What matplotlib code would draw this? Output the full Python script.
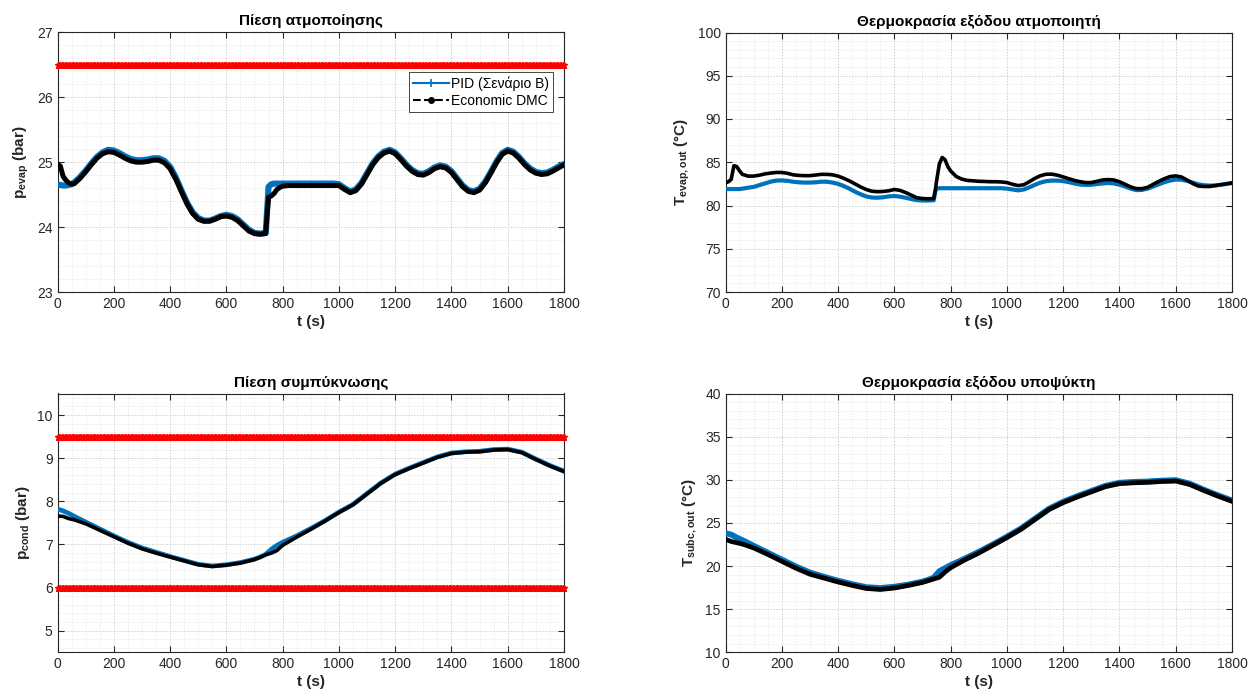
import numpy as np
import matplotlib
matplotlib.use("Agg")
import matplotlib.pyplot as plt
from matplotlib.lines import Line2D
from matplotlib.ticker import MultipleLocator

plt.rcParams["font.family"] = ["Liberation Sans", "DejaVu Sans"]
plt.rcParams["mathtext.fontset"] = "custom"
plt.rcParams["mathtext.rm"] = "Liberation Sans"
plt.rcParams["mathtext.bf"] = "Liberation Sans:bold"
plt.rcParams["mathtext.it"] = "Liberation Sans:italic"

# ---------------- data ----------------
# time grid for the evaporator signals (denser around the step at ~745 s)
t_top = np.concatenate([np.arange(0, 61, 10), np.arange(80, 741, 20),
                        [745, 750, 760, 770, 780, 790], np.arange(800, 1801, 20)])
# time grid for the condenser / subcooler signals
t_bot = np.concatenate([[0, 20, 40, 60], np.arange(100, 701, 50),
                        [720, 740, 760, 780, 800], np.arange(850, 1801, 50)])

p_evap_pid = [24.65, 24.65, 24.64, 24.64, 24.65, 24.66, 24.69,
              24.77, 24.87, 24.98, 25.08, 25.15, 25.19, 25.18, 25.14, 25.09, 25.05,
              25.03, 25.03, 25.04, 25.06, 25.06, 25.02, 24.93, 24.77, 24.57, 24.38,
              24.23, 24.14, 24.10, 24.10, 24.13, 24.17, 24.19, 24.17, 24.12, 24.04,
              23.96, 23.91, 23.90, 23.91,
              24.27, 24.62, 24.66, 24.67, 24.67, 24.67,
              24.67, 24.67, 24.67, 24.67, 24.67, 24.67, 24.67, 24.67, 24.67, 24.67,
              24.66, 24.60, 24.55, 24.58, 24.68, 24.83, 24.98, 25.09, 25.16, 25.19,
              25.15, 25.06, 24.96, 24.88, 24.83, 24.82, 24.86, 24.92, 24.95, 24.93,
              24.86, 24.75, 24.64, 24.57, 24.55, 24.59, 24.70, 24.85, 25.01, 25.14,
              25.19, 25.16, 25.08, 24.98, 24.90, 24.85, 24.83, 24.84, 24.88, 24.93,
              24.97]
p_evap_dmc = [24.97, 24.94, 24.78, 24.72, 24.68, 24.66, 24.67,
              24.75, 24.85, 24.96, 25.06, 25.13, 25.16, 25.15, 25.11, 25.06, 25.02,
              25.00, 25.00, 25.01, 25.03, 25.03, 24.99, 24.90, 24.74, 24.55, 24.36,
              24.21, 24.12, 24.09, 24.09, 24.12, 24.16, 24.17, 24.15, 24.10, 24.02,
              23.94, 23.90, 23.89, 23.90,
              24.20, 24.46, 24.48, 24.52, 24.58, 24.61,
              24.63, 24.64, 24.64, 24.64, 24.64, 24.64, 24.64, 24.64, 24.64, 24.64,
              24.64, 24.58, 24.53, 24.56, 24.66, 24.81, 24.96, 25.07, 25.14, 25.17,
              25.13, 25.04, 24.94, 24.86, 24.81, 24.80, 24.84, 24.90, 24.93, 24.91,
              24.84, 24.73, 24.62, 24.55, 24.53, 24.57, 24.68, 24.83, 24.99, 25.12,
              25.17, 25.14, 25.06, 24.96, 24.88, 24.83, 24.81, 24.82, 24.86, 24.91,
              24.96]

T_evap_pid = [81.9, 81.9, 81.9, 81.9, 81.9, 81.9, 81.95,
              82.05, 82.15, 82.35, 82.55, 82.75, 82.88, 82.9, 82.85, 82.75, 82.68,
              82.65, 82.65, 82.68, 82.75, 82.75, 82.65, 82.5, 82.25, 81.95, 81.6,
              81.3, 81.05, 80.92, 80.9, 80.95, 81.05, 81.1, 81.02, 80.9, 80.75,
              80.62, 80.58, 80.58, 80.6,
              81.6, 81.95, 82.0, 82.0, 82.0, 82.0,
              82.0, 82.0, 82.0, 82.0, 82.0, 82.0, 82.0, 82.0, 82.0, 82.0,
              81.95, 81.85, 81.75, 81.85, 82.1, 82.4, 82.65, 82.82, 82.88, 82.88,
              82.82, 82.7, 82.55, 82.42, 82.38, 82.4, 82.48, 82.55, 82.6, 82.55,
              82.4, 82.2, 81.95, 81.78, 81.8, 81.95, 82.2, 82.45, 82.7, 82.88,
              83.0, 82.98, 82.85, 82.65, 82.45, 82.35, 82.3, 82.32, 82.4, 82.5,
              82.6]
T_evap_dmc = [82.6, 82.75, 83.0, 84.6, 84.5, 84.0, 83.6,
              83.4, 83.4, 83.5, 83.65, 83.75, 83.82, 83.82, 83.72, 83.55, 83.48,
              83.45, 83.45, 83.52, 83.6, 83.6, 83.55, 83.4, 83.15, 82.85, 82.5,
              82.15, 81.85, 81.65, 81.6, 81.62, 81.7, 81.85, 81.75, 81.5, 81.2,
              80.9, 80.8, 80.78, 80.8,
              81.6, 82.8, 84.8, 85.55, 85.3, 84.5,
              84.0, 83.35, 83.05, 82.9, 82.85, 82.8, 82.78, 82.75, 82.75, 82.72,
              82.65, 82.45, 82.3, 82.4, 82.75, 83.15, 83.45, 83.62, 83.62, 83.5,
              83.3, 83.1, 82.9, 82.75, 82.65, 82.65, 82.8, 82.95, 83.0, 82.95,
              82.75, 82.45, 82.15, 81.95, 81.95, 82.1, 82.45, 82.8, 83.1, 83.35,
              83.42, 83.3, 82.95, 82.55, 82.25, 82.2, 82.2, 82.3, 82.4, 82.5,
              82.6]

p_cond_pid = [7.82, 7.78, 7.72, 7.65,
              7.52, 7.36, 7.20, 7.05, 6.92, 6.82, 6.72, 6.63, 6.54, 6.50, 6.53, 6.58, 6.66,
              6.71, 6.77, 6.89, 6.98, 7.05,
              7.20, 7.37, 7.55, 7.75, 7.93, 8.18, 8.43, 8.63, 8.77, 8.90,
              9.03, 9.12, 9.15, 9.16, 9.20, 9.21, 9.14, 8.98, 8.83, 8.70]
p_cond_dmc = [7.66, 7.65, 7.60, 7.57,
              7.48, 7.33, 7.18, 7.03, 6.90, 6.80, 6.71, 6.62, 6.53, 6.49, 6.52, 6.57, 6.65,
              6.70, 6.76, 6.80, 6.86, 6.98,
              7.17, 7.35, 7.54, 7.74, 7.92, 8.17, 8.42, 8.62, 8.76, 8.89,
              9.02, 9.11, 9.14, 9.15, 9.19, 9.20, 9.13, 8.97, 8.82, 8.69]

T_subc_pid = [23.8, 23.65, 23.3, 23.0,
              22.35, 21.55, 20.75, 19.95, 19.25, 18.75, 18.3, 17.9, 17.55, 17.45, 17.6, 17.85, 18.2,
              18.4, 18.65, 19.4, 19.75, 20.1,
              20.85, 21.65, 22.5, 23.4, 24.35, 25.5, 26.65, 27.45, 28.1, 28.7,
              29.3, 29.65, 29.75, 29.8, 29.9, 29.95, 29.55, 28.85, 28.2, 27.6]
T_subc_dmc = [23.1, 22.85, 22.7, 22.55,
              22.1, 21.35, 20.55, 19.75, 19.05, 18.6, 18.15, 17.75, 17.4, 17.28, 17.45, 17.75, 18.1,
              18.3, 18.5, 18.7, 19.3, 19.8,
              20.7, 21.5, 22.4, 23.3, 24.25, 25.4, 26.55, 27.35, 28.0, 28.6,
              29.2, 29.55, 29.65, 29.7, 29.8, 29.85, 29.45, 28.75, 28.1, 27.5]

# operating limits
p_evap_max = 26.5
p_cond_max = 9.5
p_cond_min = 6.0

titles = ["Πίεση ατμοποίησης", "Θερμοκρασία εξόδου ατμοποιητή",
          "Πίεση συμπύκνωσης", "Θερμοκρασία εξόδου υποψύκτη"]
ylabels = [r"$\mathbf{p_{evap}}$ (bar)", r"$\mathbf{T_{evap,out}}$ (°C)",
           r"$\mathbf{p_{cond}}$ (bar)", r"$\mathbf{T_{subc,out}}$ (°C)"]
legend_labels = ["PID (Σενάριο B)", "Economic DMC"]

# ---------------- styling ----------------
BLUE = "#0072BD"
AX_GRAY = "#262626"
W, H = 1253, 698

fig = plt.figure(figsize=(W / 100, H / 100), dpi=100)


def make_axes(x0, y0, x1, y1):
    return fig.add_axes([x0 / W, 1 - y1 / H, (x1 - x0) / W, (y1 - y0) / H])


axes = [make_axes(57.5, 32.3, 564, 292), make_axes(725.5, 32.5, 1232, 292),
        make_axes(57.5, 393.5, 564, 652.3), make_axes(725.5, 393.5, 1232, 652.3)]

limits = [(23, 27, 1, 0.2), (70, 100, 5, 1), (4.5, 10.5, 1, 0.2), (10, 40, 5, 1)]
series = [(t_top, p_evap_pid, p_evap_dmc), (t_top, T_evap_pid, T_evap_dmc),
          (t_bot, p_cond_pid, p_cond_dmc), (t_bot, T_subc_pid, T_subc_dmc)]
bounds = [[p_evap_max], [], [p_cond_max, p_cond_min], []]
# (PID width, DMC width) per panel
widths = [(4.4, 3.6), (3.0, 2.6), (3.4, 2.6), (4.2, 3.4)]

t_lim = np.arange(0, 1801, 5)

for ax, title, ylab, (lo, hi, major, minor), (tt, pid, dmc), lims, (wp, wd) in zip(
        axes, titles, ylabels, limits, series, bounds, widths):
    for v in lims:
        ax.plot(t_lim, np.full(t_lim.shape, v), color="red", lw=3.5, marker="*",
                ms=5, mew=1.0, clip_on=False, zorder=3, solid_capstyle="butt")
    ax.plot(tt, pid, color=BLUE, lw=wp, zorder=4, solid_joinstyle="round")
    ax.plot(tt, dmc, color="black", lw=wd, zorder=5, solid_joinstyle="round")

    ax.set_xlim(0, 1800)
    ax.set_ylim(lo, hi)
    ax.xaxis.set_major_locator(MultipleLocator(200))
    ax.xaxis.set_minor_locator(MultipleLocator(50))
    ax.yaxis.set_major_locator(MultipleLocator(major))
    ax.yaxis.set_minor_locator(MultipleLocator(minor))
    ax.grid(which="major", color="#cfcfcf", ls=(0, (1.5, 1.5)), lw=0.7)
    ax.grid(which="minor", color="#e3e3e3", ls=(0, (1, 1.5)), lw=0.6)
    ax.set_axisbelow(True)
    ax.tick_params(which="major", direction="in", length=4, width=0.8,
                   top=True, right=True, labelsize=10, labelcolor=AX_GRAY,
                   color=AX_GRAY)
    ax.tick_params(which="minor", length=0)
    for s in ax.spines.values():
        s.set_color(AX_GRAY)
        s.set_linewidth(0.8)
    ax.set_title(title, fontsize=11, fontweight="bold", pad=5)
    ax.set_xlabel("t (s)", fontsize=11, fontweight="bold", color=AX_GRAY, labelpad=3)
    ax.set_ylabel(ylab, fontsize=11, fontweight="bold", color=AX_GRAY, labelpad=4)

handles = [Line2D([], [], color=BLUE, lw=1.5, marker="+", ms=6, mew=1.2),
           Line2D([], [], color="black", lw=1.5, ls="--", marker=".", ms=8)]
leg = axes[0].legend(handles, legend_labels, loc="upper right",
                     bbox_to_anchor=(0.978, 0.847), fontsize=10, numpoints=1,
                     handlelength=2.6, handletextpad=0.1, borderpad=0.3,
                     labelspacing=0.25, fancybox=False, framealpha=1,
                     borderaxespad=0)
leg.get_frame().set_edgecolor(AX_GRAY)
leg.get_frame().set_linewidth(0.6)

fig.savefig("out.png", dpi=100)
